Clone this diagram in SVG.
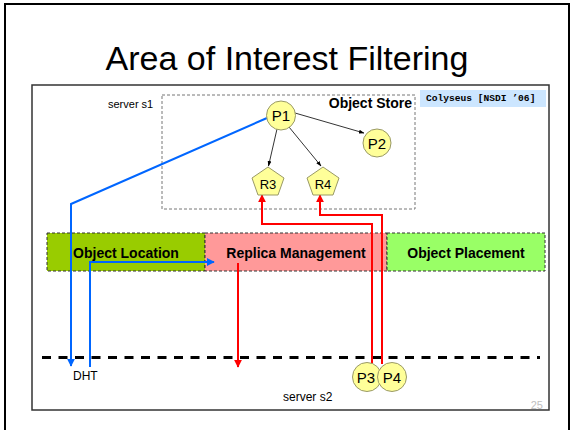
<svg xmlns="http://www.w3.org/2000/svg" width="574" height="430" viewBox="0 0 574 430">
<defs>
<style>
.t{font-family:"Liberation Sans",Arial,sans-serif;fill:#000}
.b{font-weight:bold}
.node{fill:#ffff99;stroke:#999966;stroke-width:1}
.bar{stroke:#333;stroke-width:1;stroke-dasharray:3,2}
.blue{fill:none;stroke:#0066ff;stroke-width:2}
.red{fill:none;stroke:#ff0000;stroke-width:2}
.thin{fill:none;stroke:#000;stroke-width:0.8}
</style>
<marker id="ab" viewBox="0 0 10 10" refX="9" refY="5" markerWidth="4" markerHeight="4" orient="auto"><path d="M0,0 L10,5 L0,10 z" fill="#0066ff"/></marker>
<marker id="ar" viewBox="0 0 10 10" refX="9" refY="5" markerWidth="4" markerHeight="4" orient="auto"><path d="M0,0 L10,5 L0,10 z" fill="#ff0000"/></marker>
<marker id="ak" viewBox="0 0 10 10" refX="9" refY="5" markerWidth="7" markerHeight="7" orient="auto"><path d="M0,1.5 L10,5 L0,8.5 z" fill="#000"/></marker>
</defs>
<rect width="574" height="430" fill="#fff"/>
<rect x="5" y="4" width="564" height="440" fill="none" stroke="#000" stroke-width="2"/>
<text class="t" x="287" y="70" font-size="34" text-anchor="middle">Area of Interest Filtering</text>
<rect x="32" y="85" width="517" height="325" fill="none" stroke="#333" stroke-width="1.5"/>

<g id="object-store">
<rect x="162" y="95" width="253" height="114" fill="none" stroke="#777" stroke-width="1" stroke-dasharray="3,2"/>
<text class="t b" x="412" y="108" font-size="14" text-anchor="end">Object Store</text>
</g>
<text class="t" x="108" y="108" font-size="11">server s1</text>
<g id="citation">
<rect x="420" y="90" width="126" height="17" fill="#cce6ff"/>
<text x="426" y="101" font-family="'Liberation Mono','Courier New',monospace" font-weight="bold" font-size="9.6">Colyseus [NSDI ’06]</text>
</g>

<g id="bars">
<g id="object-location"><rect class="bar" x="47" y="233" width="158" height="38" fill="#99cc00"/><text class="t b" x="126" y="258" font-size="14" text-anchor="middle">Object Location</text></g>
<g id="replica-management"><rect class="bar" x="205" y="233" width="182" height="38" fill="#ff9999"/><text class="t b" x="296" y="258" font-size="14" text-anchor="middle">Replica Management</text></g>
<g id="object-placement"><rect class="bar" x="387" y="233" width="158" height="38" fill="#99ff66"/><text class="t b" x="466" y="258" font-size="14" text-anchor="middle">Object Placement</text></g>
</g>

<line x1="42" y1="357.5" x2="540" y2="357.5" stroke="#000" stroke-width="3" stroke-dasharray="9,7.5"/>

<g id="connectors">
<line class="thin" x1="277" y1="129" x2="268.5" y2="166" marker-end="url(#ak)"/>
<line class="thin" x1="289" y1="127" x2="321" y2="166" marker-end="url(#ak)"/>
<line class="thin" x1="295" y1="113" x2="364" y2="133" marker-end="url(#ak)"/>
<polyline class="blue" points="267,118 71,204 71,366" marker-end="url(#ab)"/>
<polyline class="blue" points="90,367 90,262 214,262" marker-end="url(#ab)"/>
<line class="red" x1="238" y1="263" x2="238" y2="367" marker-end="url(#ar)"/>
<polyline class="red" points="372,364 372,224 262,224 262,195" marker-end="url(#ar)"/>
<polyline class="red" points="382,364 382,215 320,215 320,195" marker-end="url(#ar)"/>
</g>

<g id="P1"><circle class="node" cx="281" cy="115.5" r="14.5"/><text class="t" x="281" y="121" font-size="15" text-anchor="middle">P1</text></g>
<g id="P2"><circle class="node" cx="377" cy="143" r="14"/><text class="t" x="377" y="148.5" font-size="15" text-anchor="middle">P2</text></g>
<g id="R3"><polygon class="node" points="268,167 284,178 278,195 258,195 252,178"/><text class="t" x="268" y="189" font-size="13" text-anchor="middle">R3</text></g>
<g id="R4"><polygon class="node" points="323,167 339,178 333,195 313,195 307,178"/><text class="t" x="323" y="189" font-size="13" text-anchor="middle">R4</text></g>
<g id="P3"><circle class="node" cx="367" cy="377" r="14.5"/><text class="t" x="366" y="382.5" font-size="15" text-anchor="middle">P3</text></g>
<g id="P4"><circle class="node" cx="392" cy="377" r="14.5"/><text class="t" x="392" y="382.5" font-size="15" text-anchor="middle">P4</text></g>

<text class="t" x="73" y="380" font-size="12">DHT</text>
<text class="t" x="283" y="401" font-size="12">server s2</text>
<text x="543" y="409" font-family="'Liberation Sans',Arial,sans-serif" font-size="11" fill="#c0c0c0" text-anchor="end">25</text>
</svg>
